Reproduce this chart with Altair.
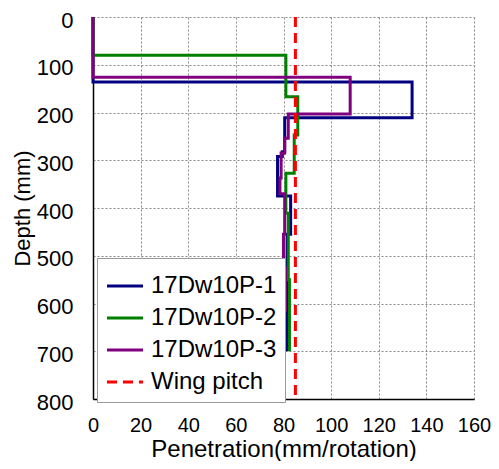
import altair as alt
import pandas as pd

# Step profiles: (penetration mm/rotation, depth mm)
p1_pen = [0, 0, 134, 134, 80.5, 80.5, 79.5, 79.5, 77.5, 77.5, 83, 83, 81.5, 81.5]
p1_dep = [0, 136, 136, 211, 211, 282, 282, 292, 292, 375, 375, 455, 455, 700]

p2_pen = [0, 0, 81, 81, 86, 86, 84.5, 84.5, 81, 81, 82, 82, 82.5, 82.5]
p2_dep = [0, 80, 80, 167, 167, 247, 247, 327, 327, 411, 411, 550, 550, 700]

p3_pen = [0, 0, 108, 108, 82, 82, 80.5, 80.5, 79, 79, 78.5, 78.5, 80.5, 80.5, 80, 80, 80.8, 80.8, 80.2, 80.2]
p3_dep = [0, 126, 126, 203, 203, 254, 254, 285, 285, 337, 337, 370, 370, 455, 455, 526, 526, 614, 614, 700]

wing_pen = [85, 85]
wing_dep = [0, 800]

series_names = ["17Dw10P-1", "17Dw10P-2", "17Dw10P-3", "Wing pitch"]
series_colors = ["#000080", "#008000", "#800080", "#FF0000"]
series_dash = [[1, 0], [1, 0], [1, 0], [10, 6]]

rows = []
for name, pens, deps in [(series_names[0], p1_pen, p1_dep),
                         (series_names[1], p2_pen, p2_dep),
                         (series_names[2], p3_pen, p3_dep)]:
    for i, (p, d) in enumerate(zip(pens, deps)):
        rows.append({"series": name, "pen": p, "depth": d, "i": i})
df = pd.DataFrame(rows)
wdf = pd.DataFrame({"series": series_names[3], "pen": wing_pen, "depth": wing_dep, "i": [0, 1]})

FONT = "Liberation Sans"

x_enc = alt.X("pen:Q", scale=alt.Scale(domain=[0, 160], nice=False),
              axis=alt.Axis(values=list(range(0, 161, 20)), title="Penetration(mm/rotation)",
                            labelOverlap=False, labelFlush=False, labelFontSize=20,
                            titleFontSize=24))
y_enc = alt.Y("depth:Q", scale=alt.Scale(domain=[0, 800], reverse=True, nice=False),
              axis=alt.Axis(values=list(range(0, 801, 100)), title="Depth (mm)",
                            labelOverlap=False, labelFlush=False, labelFontSize=22,
                            titleFontSize=22))
color_enc = alt.Color("series:N",
                      scale=alt.Scale(domain=series_names, range=series_colors),
                      legend=alt.Legend(title=None, orient="none", legendX=4, legendY=241,
                                        symbolType="stroke", symbolSize=1300,
                                        symbolStrokeWidth=3, labelFontSize=24,
                                        labelFont=FONT, rowPadding=0, labelOffset=6,
                                        strokeColor="#999999", fillColor="white",
                                        padding=8, labelLimit=300))
dash_enc = alt.StrokeDash("series:N",
                          scale=alt.Scale(domain=series_names, range=series_dash),
                          legend=None)

lines = alt.Chart(df).mark_line(strokeWidth=3, interpolate="linear").encode(
    x=x_enc, y=y_enc, color=color_enc, strokeDash=dash_enc, order="i:Q")
wing = alt.Chart(wdf).mark_line(strokeWidth=3).encode(
    x=x_enc, y=y_enc, color=color_enc, strokeDash=dash_enc, order="i:Q")

chart = (lines + wing).properties(
    width=381, height=382,
    autosize=alt.AutoSizeParams(type="none"),
    padding={"left": 85, "top": 9, "right": 17, "bottom": 62},
).configure_view(stroke=None).configure_axis(
    labelFont=FONT, titleFont=FONT,
    labelColor="black", titleColor="black", titleFontWeight="normal",
    grid=True, gridColor="#888888", gridDash=[2, 2], gridWidth=1,
    domainColor="black", domainWidth=1.5, ticks=False,
).configure_axisY(labelPadding=20, titlePadding=2, labelOffset=3
).configure_axisX(labelPadding=16, titlePadding=2)

chart.save("out.html", embed_options={"renderer": "svg", "actions": False})
